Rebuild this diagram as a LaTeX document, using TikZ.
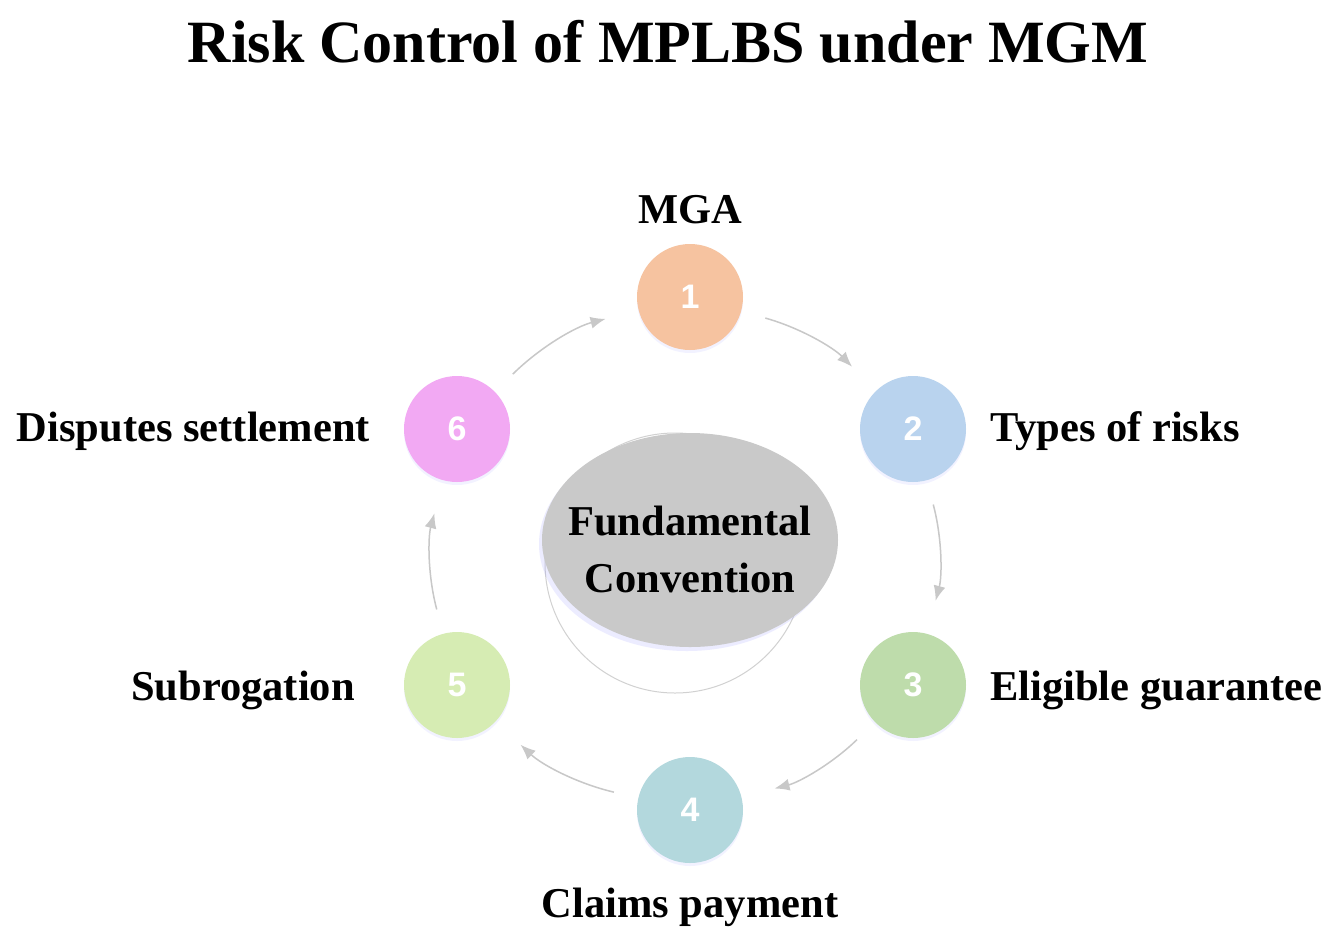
\documentclass[tikz,border=0pt]{standalone}
\usepackage{fontspec}
\setmainfont{Liberation Serif}
\newfontfamily\numfont{Liberation Sans}
\usetikzlibrary{arrows.meta,shadows,shapes.geometric}
\definecolor{cA}{HTML}{F6C3A0}
\definecolor{cB}{HTML}{B9D3EE}
\definecolor{cC}{HTML}{BEDCAB}
\definecolor{cD}{HTML}{B3D8DD}
\definecolor{cE}{HTML}{D6ECB3}
\definecolor{cF}{HTML}{F2A9F3}
\definecolor{arr}{HTML}{C8C8C8}
\definecolor{ell}{HTML}{C9C9C9}
\tikzset{
  numcirc/.style={circle, minimum size=106pt, inner sep=0pt, text=white,
    font=\numfont\bfseries\fontsize{34}{34}\selectfont,
    drop shadow={shadow xshift=0pt, shadow yshift=-3pt, opacity=0.12, fill=blue!40}},
  lab/.style={font=\bfseries\fontsize{42.5}{42.5}\selectfont, inner sep=0pt},
  flow/.style={draw=arr, line width=1.5pt, -{Latex[length=15pt,width=12pt]},
    shorten <=25pt, shorten >=34pt, bend left=15}
}
\begin{document}
\begin{tikzpicture}[x=1pt,y=1pt]
\useasboundingbox (0,0) rectangle (1343,-940);
\fill[white] (0,0) rectangle (1343,-940);
% title
\node[font=\bfseries\fontsize{60}{60}\selectfont, inner sep=0pt, anchor=base] (title) at (668,-62) {Risk Control of MPLBS under MGM};
% ring behind center
\draw[black!18, line width=1pt] (675,-563) circle[radius=130];
\node[ellipse, fill=ell, minimum width=296pt, minimum height=214pt, inner sep=0pt,
  drop shadow={shadow xshift=-3pt, shadow yshift=-4pt, opacity=0.15, fill=blue!50}] (center) at (690,-540) {};
\node[lab, anchor=base] (f1) at (690,-535) {Fundamental};
\node[lab, anchor=base] (f2) at (690,-592) {Convention};
% circles
\node[numcirc, fill=cA] (c1) at (690,-297) {1};
\node[numcirc, fill=cB] (c2) at (913,-429) {2};
\node[numcirc, fill=cC] (c3) at (913,-685) {3};
\node[numcirc, fill=cD] (c4) at (690,-810) {4};
\node[numcirc, fill=cE] (c5) at (457,-685) {5};
\node[numcirc, fill=cF] (c6) at (457,-429) {6};
% labels
\node[lab, anchor=base] (l1) at (690,-223) {MGA};
\node[lab, anchor=base west] (l2) at (990,-441) {Types of risks};
\node[lab, anchor=base west] (l3) at (990,-700) {Eligible guarantee};
\node[lab, anchor=base] (l4) at (690,-917) {Claims payment};
\node[lab, anchor=base east] (l5) at (355,-700) {Subrogation};
\node[lab, anchor=base east] (l6) at (370,-441) {Disputes settlement};
% arrows
\draw[flow] (c1) to (c2);
\draw[flow] (c2) to (c3);
\draw[flow] (c3) to (c4);
\draw[flow] (c4) to (c5);
\draw[flow] (c5) to (c6);
\draw[flow] (c6) to (c1);
\end{tikzpicture}
\end{document}
